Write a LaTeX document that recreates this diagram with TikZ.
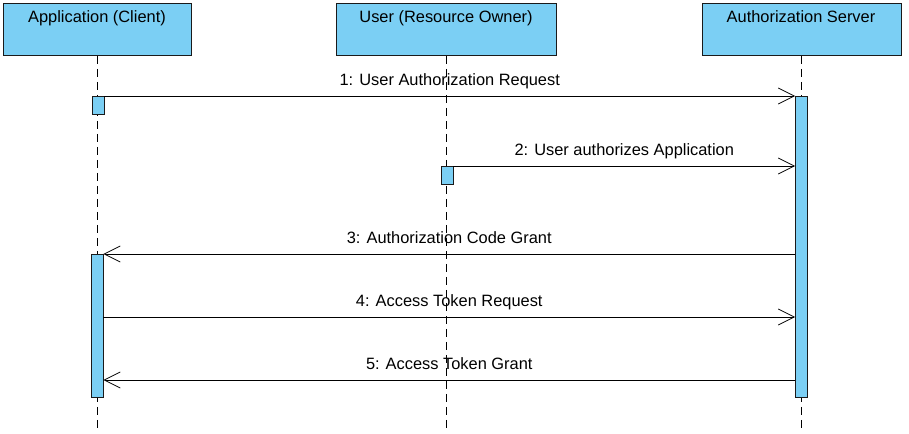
\documentclass[tikz,border=0pt]{standalone}
\usepackage{fontspec}
\setmainfont{Liberation Sans}
\usetikzlibrary{arrows.meta}
\definecolor{boxblue}{HTML}{7BCFF4}
\definecolor{edge}{HTML}{1A1A1A}
\begin{document}
\begin{tikzpicture}[x=1bp,y=-1bp,
  header/.style={draw=edge,fill=boxblue,line width=0.8bp,minimum width=#1,minimum height=52bp,inner sep=0pt,anchor=north west},
  actbox/.style={draw=edge,fill=boxblue,line width=0.8bp,minimum width=12bp,inner sep=0pt,anchor=north},
  lifeline/.style={draw=black,line width=0.8bp,dash pattern=on 8bp off 5bp},
  msg/.style={draw=black,line width=0.8bp,-{Straight Barb[length=16bp,width=16bp,line width=0.8bp]}},
  lbl/.style={font=\fontsize{16.4bp}{19bp}\selectfont,inner sep=0pt,anchor=base,yshift=10bp},
  htext/.style={font=\fontsize{16.4bp}{19bp}\selectfont,inner sep=0pt,anchor=base}]
\useasboundingbox (0,0) rectangle (909,434);
% headers
\node[header=188bp] (appH) at (3,3) {};
\node[header=220bp] (userH) at (336,3) {};
\node[header=199bp] (authH) at (702,3) {};
\node[htext] (appT) at (97,22.5) {Application (Client)};
\node[htext] (userT) at (446,22.5) {User (Resource Owner)};
\node[htext] (authT) at (801,22.5) {Authorization Server};
% lifeline end points
\coordinate (appEnd) at (97,432);
\coordinate (userEnd) at (446,432);
\coordinate (authEnd) at (801,432);
\draw[lifeline] (appH.south -| appEnd) -- (appEnd);
\draw[lifeline] (userH.south -| userEnd) -- (userEnd);
\draw[lifeline] (authH.south -| authEnd) -- (authEnd);
% activations
\node[actbox,minimum height=18bp] (appA1) at (98,96) {};
\node[actbox,minimum height=18bp] (userA) at (447,166) {};
\node[actbox,minimum height=301bp] (authA) at (801.5,96) {};
\node[actbox,minimum height=143bp] (appA2) at (97,254) {};
% messages
\coordinate (m2e) at (authA.west |- userA.north);
\coordinate (m4s) at (appA2.east |- 0,317);
\coordinate (m4e) at (authA.west |- 0,317);
\coordinate (m5s) at (authA.west |- 0,380);
\coordinate (m5e) at (appA2.east |- 0,380);
\coordinate (m3s) at (authA.west |- appA2.north);
\draw[msg] (appA1.north east) -- node[lbl] (l1) {1: User Authorization Request} (authA.north west);
\draw[msg] (userA.north east) -- node[lbl] (l2) {2: User authorizes Application} (m2e);
\draw[msg] (m3s) -- node[lbl] (l3) {3: Authorization Code Grant} (appA2.north east);
\draw[msg] (m4s) -- node[lbl] (l4) {4: Access Token Request} (m4e);
\draw[msg] (m5s) -- node[lbl] (l5) {5: Access Token Grant} (m5e);
\end{tikzpicture}
\end{document}
